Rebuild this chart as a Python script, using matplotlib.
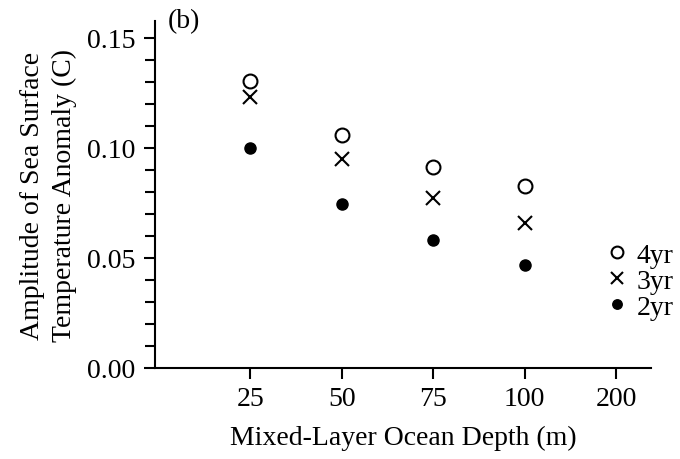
import numpy as np
import matplotlib
matplotlib.use("Agg")
import matplotlib.pyplot as plt
from matplotlib.ticker import MultipleLocator

# datos
depths = ["25", "50", "75", "100", "200"]
amp_4yr = [0.1305, 0.106, 0.0914, 0.0827]
amp_3yr = [0.123, 0.095, 0.0773, 0.0659]
amp_2yr = [0.100, 0.0745, 0.0582, 0.0468]

plt.rcParams["font.family"] = ["Liberation Serif"]
plt.rcParams["font.size"] = 20

fig = plt.figure(figsize=(6.8, 4.6), dpi=100)
ax = fig.add_axes([155 / 680, (460 - 369) / 460, (651 - 155) / 680, (369 - 22) / 460])

x = np.arange(len(depths))
ax.plot(x[:len(amp_4yr)], amp_4yr, "o", ms=10, mfc="white", mec="black", mew=1.5, ls="none", label="4yr")
ax.plot(x[:len(amp_3yr)], amp_3yr, "x", ms=10, color="black", mew=1.5, ls="none", label="3yr")
ax.plot(x[:len(amp_2yr)], amp_2yr, "o", ms=8, color="black", ls="none", label="2yr")

ax.set_xlim(-1.04, 4.38)
ax.set_ylim(0, 0.1577)
ax.set_xticks(x)
ax.set_xticklabels(depths)
ax.yaxis.set_major_locator(MultipleLocator(0.05))
ax.yaxis.set_minor_locator(MultipleLocator(0.01))
ax.yaxis.set_major_formatter(matplotlib.ticker.FormatStrFormatter("%.2f"))

for s in ["top", "right"]:
    ax.spines[s].set_visible(False)
for s in ["left", "bottom"]:
    ax.spines[s].set_linewidth(1.5)
ax.tick_params(axis="both", which="major", length=8, width=1.5, direction="out")
ax.tick_params(axis="y", which="minor", length=7, width=1.5, direction="out")
ax.tick_params(axis="x", pad=5)
ax.tick_params(axis="y", pad=6)

ax.set_xlabel("Mixed-Layer Ocean Depth (m)", labelpad=10)
ax.set_ylabel("Amplitude of Sea Surface\nTemperature Anomaly (C)", labelpad=7, linespacing=1.35)

ax.text(0.025, 1.0, "(b)", transform=ax.transAxes, ha="left", va="center")

ax.legend(loc="center left", bbox_to_anchor=(0.89, 0.25), frameon=False,
          handlelength=0.5, handletextpad=0.45, labelspacing=0.02, borderpad=0,
          markerscale=0.85)

fig.savefig("out.png", dpi=100)
